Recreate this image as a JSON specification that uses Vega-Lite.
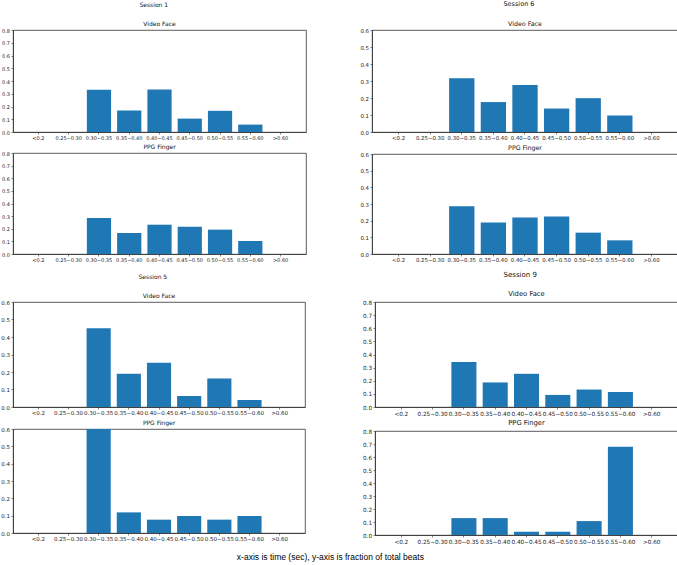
{
  "$schema": "https://vega.github.io/schema/vega-lite/v6.json",
  "padding": {"left": 0, "top": 0, "right": 0, "bottom": 0},
  "background": "white",
  "datasets": {
    "beats": [
      {"session": 1, "source": "Video Face", "bin": "<0.2", "frac": 0},
      {"session": 1, "source": "Video Face", "bin": "0.25~0.30", "frac": 0},
      {"session": 1, "source": "Video Face", "bin": "0.30~0.35", "frac": 0.332},
      {"session": 1, "source": "Video Face", "bin": "0.35~0.40", "frac": 0.168},
      {"session": 1, "source": "Video Face", "bin": "0.40~0.45", "frac": 0.334},
      {"session": 1, "source": "Video Face", "bin": "0.45~0.50", "frac": 0.105},
      {"session": 1, "source": "Video Face", "bin": "0.50~0.55", "frac": 0.166},
      {"session": 1, "source": "Video Face", "bin": "0.55~0.60", "frac": 0.058},
      {"session": 1, "source": "Video Face", "bin": ">0.60", "frac": 0},
      {"session": 1, "source": "PPG Finger", "bin": "<0.2", "frac": 0},
      {"session": 1, "source": "PPG Finger", "bin": "0.25~0.30", "frac": 0},
      {"session": 1, "source": "PPG Finger", "bin": "0.30~0.35", "frac": 0.285},
      {"session": 1, "source": "PPG Finger", "bin": "0.35~0.40", "frac": 0.166},
      {"session": 1, "source": "PPG Finger", "bin": "0.40~0.45", "frac": 0.232},
      {"session": 1, "source": "PPG Finger", "bin": "0.45~0.50", "frac": 0.216},
      {"session": 1, "source": "PPG Finger", "bin": "0.50~0.55", "frac": 0.193},
      {"session": 1, "source": "PPG Finger", "bin": "0.55~0.60", "frac": 0.103},
      {"session": 1, "source": "PPG Finger", "bin": ">0.60", "frac": 0},
      {"session": 6, "source": "Video Face", "bin": "<0.2", "frac": 0},
      {"session": 6, "source": "Video Face", "bin": "0.25~0.30", "frac": 0},
      {"session": 6, "source": "Video Face", "bin": "0.30~0.35", "frac": 0.316},
      {"session": 6, "source": "Video Face", "bin": "0.35~0.40", "frac": 0.176},
      {"session": 6, "source": "Video Face", "bin": "0.40~0.45", "frac": 0.276},
      {"session": 6, "source": "Video Face", "bin": "0.45~0.50", "frac": 0.138},
      {"session": 6, "source": "Video Face", "bin": "0.50~0.55", "frac": 0.199},
      {"session": 6, "source": "Video Face", "bin": "0.55~0.60", "frac": 0.097},
      {"session": 6, "source": "Video Face", "bin": ">0.60", "frac": 0},
      {"session": 6, "source": "PPG Finger", "bin": "<0.2", "frac": 0},
      {"session": 6, "source": "PPG Finger", "bin": "0.25~0.30", "frac": 0},
      {"session": 6, "source": "PPG Finger", "bin": "0.30~0.35", "frac": 0.287},
      {"session": 6, "source": "PPG Finger", "bin": "0.35~0.40", "frac": 0.189},
      {"session": 6, "source": "PPG Finger", "bin": "0.40~0.45", "frac": 0.219},
      {"session": 6, "source": "PPG Finger", "bin": "0.45~0.50", "frac": 0.225},
      {"session": 6, "source": "PPG Finger", "bin": "0.50~0.55", "frac": 0.128},
      {"session": 6, "source": "PPG Finger", "bin": "0.55~0.60", "frac": 0.082},
      {"session": 6, "source": "PPG Finger", "bin": ">0.60", "frac": 0},
      {"session": 5, "source": "Video Face", "bin": "<0.2", "frac": 0},
      {"session": 5, "source": "Video Face", "bin": "0.25~0.30", "frac": 0},
      {"session": 5, "source": "Video Face", "bin": "0.30~0.35", "frac": 0.450},
      {"session": 5, "source": "Video Face", "bin": "0.35~0.40", "frac": 0.190},
      {"session": 5, "source": "Video Face", "bin": "0.40~0.45", "frac": 0.253},
      {"session": 5, "source": "Video Face", "bin": "0.45~0.50", "frac": 0.063},
      {"session": 5, "source": "Video Face", "bin": "0.50~0.55", "frac": 0.163},
      {"session": 5, "source": "Video Face", "bin": "0.55~0.60", "frac": 0.040},
      {"session": 5, "source": "Video Face", "bin": ">0.60", "frac": 0},
      {"session": 5, "source": "PPG Finger", "bin": "<0.2", "frac": 0},
      {"session": 5, "source": "PPG Finger", "bin": "0.25~0.30", "frac": 0},
      {"session": 5, "source": "PPG Finger", "bin": "0.30~0.35", "frac": 0.65},
      {"session": 5, "source": "PPG Finger", "bin": "0.35~0.40", "frac": 0.119},
      {"session": 5, "source": "PPG Finger", "bin": "0.40~0.45", "frac": 0.077},
      {"session": 5, "source": "PPG Finger", "bin": "0.45~0.50", "frac": 0.098},
      {"session": 5, "source": "PPG Finger", "bin": "0.50~0.55", "frac": 0.077},
      {"session": 5, "source": "PPG Finger", "bin": "0.55~0.60", "frac": 0.098},
      {"session": 5, "source": "PPG Finger", "bin": ">0.60", "frac": 0},
      {"session": 9, "source": "Video Face", "bin": "<0.2", "frac": 0},
      {"session": 9, "source": "Video Face", "bin": "0.25~0.30", "frac": 0},
      {"session": 9, "source": "Video Face", "bin": "0.30~0.35", "frac": 0.342},
      {"session": 9, "source": "Video Face", "bin": "0.35~0.40", "frac": 0.187},
      {"session": 9, "source": "Video Face", "bin": "0.40~0.45", "frac": 0.253},
      {"session": 9, "source": "Video Face", "bin": "0.45~0.50", "frac": 0.092},
      {"session": 9, "source": "Video Face", "bin": "0.50~0.55", "frac": 0.133},
      {"session": 9, "source": "Video Face", "bin": "0.55~0.60", "frac": 0.115},
      {"session": 9, "source": "Video Face", "bin": ">0.60", "frac": 0},
      {"session": 9, "source": "PPG Finger", "bin": "<0.2", "frac": 0},
      {"session": 9, "source": "PPG Finger", "bin": "0.25~0.30", "frac": 0},
      {"session": 9, "source": "PPG Finger", "bin": "0.30~0.35", "frac": 0.130},
      {"session": 9, "source": "PPG Finger", "bin": "0.35~0.40", "frac": 0.130},
      {"session": 9, "source": "PPG Finger", "bin": "0.40~0.45", "frac": 0.025},
      {"session": 9, "source": "PPG Finger", "bin": "0.45~0.50", "frac": 0.025},
      {"session": 9, "source": "PPG Finger", "bin": "0.50~0.55", "frac": 0.107},
      {"session": 9, "source": "PPG Finger", "bin": "0.55~0.60", "frac": 0.678},
      {"session": 9, "source": "PPG Finger", "bin": ">0.60", "frac": 0}
    ]
  },
  "data": {"name": "beats"},
  "title": {
    "text": "x-axis is time (sec), y-axis is fraction of total beats",
    "orient": "bottom",
    "anchor": "middle",
    "offset": 8,
    "dx": -9,
    "font": "Liberation Sans",
    "fontSize": 8.5,
    "fontWeight": "normal",
    "color": "#000000"
  },
  "spacing": 6,
  "vconcat": [
    {
      "spacing": 52,
      "hconcat": [
        {
          "title": {"text": "Session 1", "offset": 13, "fontSize": 6},
          "spacing": 2,
          "vconcat": [
            {
              "title": {"text": "Video Face", "fontSize": 6},
              "width": 293, "height": 102,
              "transform": [{"filter": "datum.session == 1 && datum.source == 'Video Face'"}],
              "mark": {"type": "bar", "color": "#1f77b4", "clip": true},
              "encoding": {
                "x": {"field": "bin", "type": "nominal", "sort": null, "title": null,
                  "scale": {"domain": ["<0.2", "0.25~0.30", "0.30~0.35", "0.35~0.40", "0.40~0.45", "0.45~0.50", "0.50~0.55", "0.55~0.60", ">0.60"], "paddingInner": 0.2, "paddingOuter": 0.44},
                  "axis": {"labelFontSize": 5}},
                "y": {"field": "frac", "type": "quantitative", "title": null,
                  "scale": {"domain": [0, 0.8], "nice": false},
                  "axis": {"values": [0, 0.1, 0.2, 0.3, 0.4, 0.5, 0.6, 0.7, 0.8], "labelFontSize": 5}}
              }
            },
            {
              "title": {"text": "PPG Finger", "fontSize": 6},
              "width": 293, "height": 101,
              "transform": [{"filter": "datum.session == 1 && datum.source == 'PPG Finger'"}],
              "mark": {"type": "bar", "color": "#1f77b4", "clip": true},
              "encoding": {
                "x": {"field": "bin", "type": "nominal", "sort": null, "title": null,
                  "scale": {"domain": ["<0.2", "0.25~0.30", "0.30~0.35", "0.35~0.40", "0.40~0.45", "0.45~0.50", "0.50~0.55", "0.55~0.60", ">0.60"], "paddingInner": 0.2, "paddingOuter": 0.44},
                  "axis": {"labelFontSize": 5}},
                "y": {"field": "frac", "type": "quantitative", "title": null,
                  "scale": {"domain": [0, 0.8], "nice": false},
                  "axis": {"values": [0, 0.1, 0.2, 0.3, 0.4, 0.5, 0.6, 0.7, 0.8], "labelFontSize": 5}}
              }
            }
          ]
        },
        {
          "title": {"text": "Session 6", "offset": 13, "fontSize": 6.5},
          "spacing": 2,
          "vconcat": [
            {
              "title": {"text": "Video Face", "fontSize": 6.3},
              "width": 306, "height": 102,
              "transform": [{"filter": "datum.session == 6 && datum.source == 'Video Face'"}],
              "mark": {"type": "bar", "color": "#1f77b4", "clip": true},
              "encoding": {
                "x": {"field": "bin", "type": "nominal", "sort": null, "title": null,
                  "scale": {"domain": ["<0.2", "0.25~0.30", "0.30~0.35", "0.35~0.40", "0.40~0.45", "0.45~0.50", "0.50~0.55", "0.55~0.60", ">0.60"], "paddingInner": 0.2, "paddingOuter": 0.44},
                  "axis": {"labelFontSize": 5.4}},
                "y": {"field": "frac", "type": "quantitative", "title": null,
                  "scale": {"domain": [0, 0.6], "nice": false},
                  "axis": {"values": [0, 0.1, 0.2, 0.3, 0.4, 0.5, 0.6], "labelFontSize": 5.4}}
              }
            },
            {
              "title": {"text": "PPG Finger", "fontSize": 6.3},
              "width": 306, "height": 100,
              "transform": [{"filter": "datum.session == 6 && datum.source == 'PPG Finger'"}],
              "mark": {"type": "bar", "color": "#1f77b4", "clip": true},
              "encoding": {
                "x": {"field": "bin", "type": "nominal", "sort": null, "title": null,
                  "scale": {"domain": ["<0.2", "0.25~0.30", "0.30~0.35", "0.35~0.40", "0.40~0.45", "0.45~0.50", "0.50~0.55", "0.55~0.60", ">0.60"], "paddingInner": 0.2, "paddingOuter": 0.44},
                  "axis": {"labelFontSize": 5.4}},
                "y": {"field": "frac", "type": "quantitative", "title": null,
                  "scale": {"domain": [0, 0.6], "nice": false},
                  "axis": {"values": [0, 0.1, 0.2, 0.3, 0.4, 0.5, 0.6], "labelFontSize": 5.4}}
              }
            }
          ]
        }
      ]
    },
    {
      "spacing": 56,
      "hconcat": [
        {
          "title": {"text": "Session 5", "offset": 13, "fontSize": 6},
          "spacing": 2,
          "vconcat": [
            {
              "title": {"text": "Video Face", "fontSize": 6},
              "width": 292, "height": 105,
              "transform": [{"filter": "datum.session == 5 && datum.source == 'Video Face'"}],
              "mark": {"type": "bar", "color": "#1f77b4", "clip": true},
              "encoding": {
                "x": {"field": "bin", "type": "nominal", "sort": null, "title": null,
                  "scale": {"domain": ["<0.2", "0.25~0.30", "0.30~0.35", "0.35~0.40", "0.40~0.45", "0.45~0.50", "0.50~0.55", "0.55~0.60", ">0.60"], "paddingInner": 0.2, "paddingOuter": 0.44},
                  "axis": {"labelFontSize": 5.5}},
                "y": {"field": "frac", "type": "quantitative", "title": null,
                  "scale": {"domain": [0, 0.6], "nice": false},
                  "axis": {"values": [0, 0.1, 0.2, 0.3, 0.4, 0.5, 0.6], "labelFontSize": 5.5}}
              }
            },
            {
              "title": {"text": "PPG Finger", "fontSize": 6},
              "width": 292, "height": 104,
              "transform": [{"filter": "datum.session == 5 && datum.source == 'PPG Finger'"}],
              "mark": {"type": "bar", "color": "#1f77b4", "clip": true},
              "encoding": {
                "x": {"field": "bin", "type": "nominal", "sort": null, "title": null,
                  "scale": {"domain": ["<0.2", "0.25~0.30", "0.30~0.35", "0.35~0.40", "0.40~0.45", "0.45~0.50", "0.50~0.55", "0.55~0.60", ">0.60"], "paddingInner": 0.2, "paddingOuter": 0.44},
                  "axis": {"labelFontSize": 5.5}},
                "y": {"field": "frac", "type": "quantitative", "title": null,
                  "scale": {"domain": [0, 0.6], "nice": false},
                  "axis": {"values": [0, 0.1, 0.2, 0.3, 0.4, 0.5, 0.6], "labelFontSize": 5.5}}
              }
            }
          ]
        },
        {
          "title": {"text": "Session 9", "offset": 13, "fontSize": 7},
          "spacing": 2,
          "vconcat": [
            {
              "title": {"text": "Video Face", "fontSize": 6.8},
              "width": 303, "height": 105,
              "transform": [{"filter": "datum.session == 9 && datum.source == 'Video Face'"}],
              "mark": {"type": "bar", "color": "#1f77b4", "clip": true},
              "encoding": {
                "x": {"field": "bin", "type": "nominal", "sort": null, "title": null,
                  "scale": {"domain": ["<0.2", "0.25~0.30", "0.30~0.35", "0.35~0.40", "0.40~0.45", "0.45~0.50", "0.50~0.55", "0.55~0.60", ">0.60"], "paddingInner": 0.2, "paddingOuter": 0.44},
                  "axis": {"labelFontSize": 5.7}},
                "y": {"field": "frac", "type": "quantitative", "title": null,
                  "scale": {"domain": [0, 0.8], "nice": false},
                  "axis": {"values": [0, 0.1, 0.2, 0.3, 0.4, 0.5, 0.6, 0.7, 0.8], "labelFontSize": 5.7}}
              }
            },
            {
              "title": {"text": "PPG Finger", "fontSize": 6.8},
              "width": 303, "height": 104,
              "transform": [{"filter": "datum.session == 9 && datum.source == 'PPG Finger'"}],
              "mark": {"type": "bar", "color": "#1f77b4", "clip": true},
              "encoding": {
                "x": {"field": "bin", "type": "nominal", "sort": null, "title": null,
                  "scale": {"domain": ["<0.2", "0.25~0.30", "0.30~0.35", "0.35~0.40", "0.40~0.45", "0.45~0.50", "0.50~0.55", "0.55~0.60", ">0.60"], "paddingInner": 0.2, "paddingOuter": 0.44},
                  "axis": {"labelFontSize": 5.7}},
                "y": {"field": "frac", "type": "quantitative", "title": null,
                  "scale": {"domain": [0, 0.8], "nice": false},
                  "axis": {"values": [0, 0.1, 0.2, 0.3, 0.4, 0.5, 0.6, 0.7, 0.8], "labelFontSize": 5.7}}
              }
            }
          ]
        }
      ]
    }
  ],
  "config": {
    "font": "DejaVu Sans",
    "view": {"stroke": "#333333", "strokeWidth": 0.8},
    "axis": {
      "grid": false,
      "labelFont": "DejaVu Sans",
      "labelColor": "#222222",
      "labelPadding": 1.5,
      "tickSize": 2,
      "tickColor": "#333333",
      "tickWidth": 0.6,
      "domainColor": "#333333",
      "domainWidth": 0.8
    },
    "axisX": {"labelAngle": 0, "labelOverlap": false},
    "axisY": {"format": ".1f", "labelOverlap": false},
    "title": {"font": "DejaVu Sans", "fontWeight": "normal", "color": "#111111", "offset": 1, "anchor": "middle"}
  }
}
